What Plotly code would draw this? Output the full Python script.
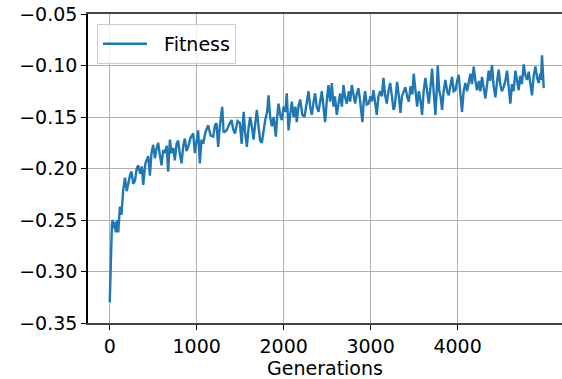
import plotly.graph_objects as go

generations = [0, 8, 15, 25, 32, 45, 55, 70, 85, 98, 117, 135, 155, 175, 195, 213, 235, 251, 270, 290,
    310, 328, 350, 370, 385, 410, 443, 462, 480, 500, 520, 540, 557, 575, 596, 615, 634, 655, 672, 692,
    710, 730, 749, 768, 787, 806, 826, 845, 864, 883, 902, 930, 960, 979, 1000, 1017, 1036, 1055, 1075, 1100,
    1132, 1160, 1190, 1210, 1228, 1247, 1265, 1293, 1310, 1343, 1370, 1400, 1420, 1440, 1470, 1497, 1517, 1540, 1557, 1577,
    1597, 1615, 1635, 1654, 1675, 1692, 1712, 1730, 1749, 1770, 1788, 1810, 1826, 1845, 1864, 1885, 1910, 1925, 1941, 1960,
    1979, 2000, 2020, 2036, 2056, 2075, 2094, 2115, 2135, 2151, 2170, 2190, 2215, 2240, 2260, 2286, 2305, 2324, 2345, 2362,
    2380, 2401, 2420, 2439, 2458, 2477, 2495, 2515, 2535, 2554, 2573, 2590, 2611, 2630, 2649, 2670, 2688, 2705, 2726, 2750,
    2765, 2784, 2805, 2822, 2840, 2860, 2880, 2906, 2920, 2937, 2955, 2975, 3000, 3015, 3033, 3050, 3071, 3090, 3110, 3130,
    3148, 3165, 3186, 3205, 3225, 3245, 3263, 3278, 3290, 3305, 3325, 3343, 3360, 3380, 3400, 3420, 3439, 3460, 3480, 3496,
    3515, 3535, 3555, 3575, 3592, 3610, 3630, 3650, 3669, 3690, 3707, 3725, 3745, 3760, 3772, 3790, 3805, 3822, 3840, 3860,
    3880, 3898, 3918, 3937, 3955, 3975, 3995, 4013, 4030, 4051, 4070, 4090, 4110, 4130, 4147, 4165, 4186, 4205, 4224, 4245,
    4262, 4281, 4300, 4320, 4340, 4358, 4375, 4396, 4415, 4435, 4455, 4473, 4490, 4510, 4530, 4550, 4569, 4590, 4607, 4625,
    4645, 4665, 4685, 4703, 4720, 4740, 4760, 4780, 4799, 4818, 4838, 4856, 4875, 4895, 4915, 4933, 4950, 4960, 4971, 4980,
    4991]

fitness = [-0.330, -0.300, -0.275, -0.255, -0.250, -0.258, -0.252, -0.262, -0.250, -0.262, -0.237, -0.245, -0.221, -0.209, -0.222, -0.214, -0.206, -0.203, -0.215, -0.212,
    -0.200, -0.197, -0.205, -0.198, -0.216, -0.195, -0.188, -0.207, -0.185, -0.177, -0.190, -0.180, -0.175, -0.186, -0.197, -0.182, -0.185, -0.178, -0.203, -0.172,
    -0.185, -0.180, -0.192, -0.176, -0.173, -0.186, -0.195, -0.178, -0.171, -0.183, -0.179, -0.170, -0.166, -0.185, -0.170, -0.163, -0.195, -0.172, -0.176, -0.165,
    -0.158, -0.168, -0.169, -0.158, -0.156, -0.179, -0.160, -0.140, -0.165, -0.163, -0.158, -0.153, -0.162, -0.166, -0.154, -0.156, -0.176, -0.145, -0.165, -0.179,
    -0.160, -0.150, -0.160, -0.172, -0.155, -0.143, -0.160, -0.173, -0.175, -0.160, -0.153, -0.145, -0.129, -0.150, -0.159, -0.150, -0.169, -0.150, -0.137, -0.148,
    -0.153, -0.140, -0.145, -0.127, -0.163, -0.148, -0.135, -0.150, -0.140, -0.155, -0.140, -0.133, -0.148, -0.150, -0.138, -0.125, -0.140, -0.148, -0.135, -0.127,
    -0.140, -0.145, -0.135, -0.125, -0.140, -0.155, -0.135, -0.119, -0.135, -0.117, -0.140, -0.130, -0.148, -0.135, -0.127, -0.140, -0.119, -0.130, -0.137, -0.125,
    -0.135, -0.119, -0.130, -0.137, -0.128, -0.122, -0.135, -0.155, -0.135, -0.125, -0.138, -0.137, -0.130, -0.135, -0.124, -0.135, -0.148, -0.130, -0.125, -0.130,
    -0.112, -0.128, -0.137, -0.125, -0.117, -0.130, -0.143, -0.140, -0.125, -0.116, -0.130, -0.146, -0.130, -0.125, -0.121, -0.130, -0.135, -0.120, -0.128, -0.108,
    -0.128, -0.140, -0.125, -0.135, -0.148, -0.125, -0.112, -0.125, -0.137, -0.120, -0.103, -0.125, -0.148, -0.125, -0.100, -0.125, -0.130, -0.143, -0.125, -0.114,
    -0.125, -0.129, -0.118, -0.111, -0.125, -0.124, -0.115, -0.109, -0.125, -0.145, -0.125, -0.117, -0.125, -0.115, -0.108, -0.118, -0.101, -0.115, -0.124, -0.115,
    -0.125, -0.111, -0.120, -0.132, -0.118, -0.105, -0.115, -0.0995, -0.120, -0.131, -0.115, -0.104, -0.118, -0.125, -0.121, -0.115, -0.105, -0.120, -0.137, -0.118,
    -0.125, -0.105, -0.115, -0.124, -0.110, -0.118, -0.099, -0.110, -0.114, -0.106, -0.118, -0.129, -0.110, -0.101, -0.112, -0.117, -0.108, -0.114, -0.090, -0.112,
    -0.122]

x_ticks = [0, 1000, 2000, 3000, 4000]
y_ticks = [-0.35, -0.30, -0.25, -0.20, -0.15, -0.10, -0.05]
y_tick_labels = ["\u22120.35", "\u22120.30", "\u22120.25", "\u22120.20", "\u22120.15", "\u22120.10", "\u22120.05"]

fig = go.Figure()
fig.add_trace(go.Scatter(
    x=generations, y=fitness, mode="lines", name="\u00a0\u00a0Fitness",
    line=dict(color="#1f77b4", width=2.4),
))

font = dict(family="DejaVu Sans", size=19, color="black")

fig.update_layout(
    width=562, height=379,
    margin=dict(l=88, r=0, t=14, b=56),
    paper_bgcolor="white", plot_bgcolor="white",
    font=font,
    showlegend=True,
    legend=dict(
        x=0.019, y=0.968, xanchor="left", yanchor="top",
        bgcolor="rgba(255,255,255,0.8)", bordercolor="#cccccc", borderwidth=1,
        font=font, itemwidth=44,
    ),
    xaxis=dict(
        range=[-250, 5201], tickvals=x_ticks, ticktext=[str(v) for v in x_ticks],
        showgrid=True, gridcolor="#b0b0b0", gridwidth=1.1,
        showline=True, linecolor="#444444", linewidth=1.5, mirror=True,
        ticks="outside", ticklen=5, tickcolor="black", tickwidth=1,
        zeroline=False, automargin=False,
        title=dict(text="Generations", font=font, standoff=2),
        tickfont=font,
    ),
    yaxis=dict(
        range=[-0.35, -0.05], tickvals=y_ticks, ticktext=y_tick_labels,
        showgrid=True, gridcolor="#b0b0b0", gridwidth=1.1,
        showline=True, linecolor="black", linewidth=1.5, mirror=False,
        ticks="outside", ticklen=5, tickcolor="black", tickwidth=1,
        zeroline=False, automargin=False,
        tickfont=font,
    ),
)

fig.write_html(
    "out.html",
    config={"displayModeBar": False},
    post_script="document.body.style.margin='0px';document.body.style.padding='0px';",
)
